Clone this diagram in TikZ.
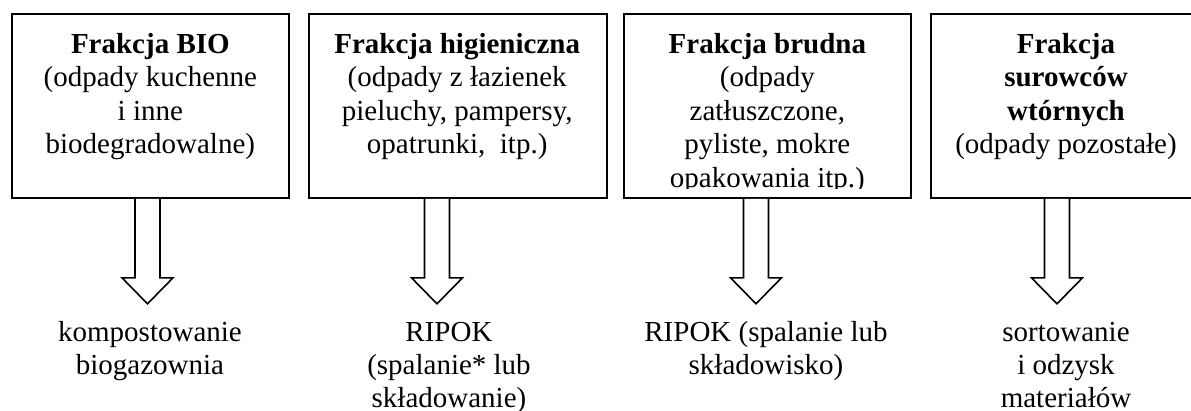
\documentclass[tikz,border=0pt]{standalone}
\usepackage{fontspec}
\setmainfont{Liberation Serif}
\usetikzlibrary{calc}
\tikzset{
  boxnode/.style={draw=black, line width=1.6pt, rectangle, inner sep=0pt, minimum height=184pt},
  boxtext/.style={anchor=base, align=center, inner sep=0pt, font=\fontsize{29}{33.5}\selectfont},
  outtext/.style={anchor=base, align=center, inner sep=0pt, font=\fontsize{29}{33}\selectfont},
  fatarrow/.style={draw=black, line width=1.6pt, fill=white, line join=miter}
}
\newcommand{\fatarrowpath}[2]{%
  \draw[fatarrow] ($(#1.south)+(#2-12.5,0)$) -- ++(0,79) -- ++(-13,0) -- ++(25.5,26) -- ++(25.5,-26) -- ++(-13,0) -- ++(0,-79);%
}
\begin{document}
\begin{tikzpicture}[x=1pt,y=-1pt]
\clip (0,0) rectangle (1191,410);
\useasboundingbox (0,0) rectangle (1191,410);

% boxes
\node[boxnode, minimum width=276.7pt] (b1) at (150.35,106) {};
\node[boxnode, minimum width=298pt]   (b2) at (457.7,106) {};
\node[boxnode, minimum width=286.7pt] (b3) at (767.35,106) {};
\node[boxnode, minimum width=269.3pt] (b4) at (1065.35,106) {};

% box texts (anchor base = baseline of the last line)
\node[boxtext] (t1) at (150.35,153.5) {\textbf{Frakcja BIO}\\(odpady kuchenne\\i inne\\biodegradowalne)};
\node[boxtext] (t2) at (457.2,153.5) {\textbf{Frakcja higieniczna}\\(odpady z łazienek\\pieluchy, pampersy,\\opatrunki,\ \ itp.)};
\begin{scope}
\clip (624,14) rectangle (910.7,188);
\node[boxtext] (t3) at (767.35,187) {\textbf{Frakcja brudna}\\(odpady\\zatłuszczone,\\pyliste, mokre\\opakowania itp.)};
\end{scope}
\node[boxtext] (t4) at (1066,153.5) {\textbf{Frakcja}\\\textbf{surowców}\\\textbf{wtórnych}\\(odpady pozostałe)};

% arrows
\fatarrowpath{b1}{-2.85}
\fatarrowpath{b2}{-20.7}
\fatarrowpath{b3}{-11.35}
\fatarrowpath{b4}{-8.35}

% outcomes
\node[outtext] (o1) at (150,374) {kompostowanie\\biogazownia};
\node[outtext] (o2) at (449,407) {RIPOK\\(spalanie* lub\\składowanie)};
\node[outtext] (o3) at (766,374) {RIPOK (spalanie lub\\składowisko)};
\node[outtext] (o4) at (1066,407) {sortowanie\\i odzysk\\materiałów};
\end{tikzpicture}
\end{document}
